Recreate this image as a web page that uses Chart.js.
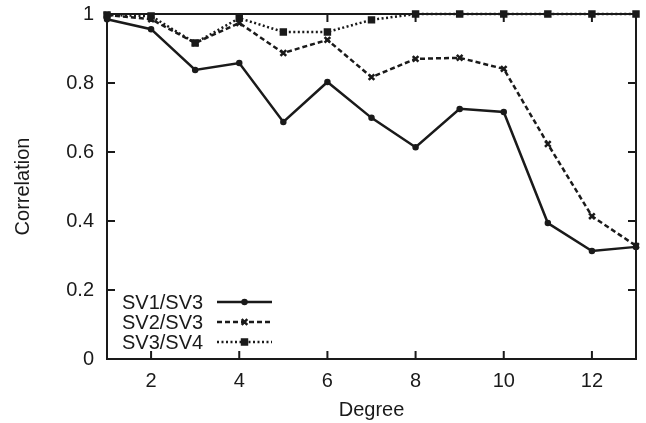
<!DOCTYPE html>
<html lang="en">
<head>
  <meta charset="UTF-8">
  <title>Correlation vs Degree</title>
  <script src="https://cdn.jsdelivr.net/npm/chart.js"></script>
  <style>
    body { margin: 0; background: #fff; }
    #wrap { width: 646px; height: 423px; }
  </style>
</head>
<body>
  <div id="wrap">
    <canvas id="myChart" width="646" height="423"></canvas>
  </div>

  <script>
    const degrees = [1, 2, 3, 4, 5, 6, 7, 8, 9, 10, 11, 12, 13];
    const sv1sv3 = [0.985, 0.956, 0.838, 0.858, 0.687, 0.803, 0.699, 0.614, 0.725, 0.716, 0.394, 0.313, 0.325];
    const sv2sv3 = [0.997, 0.985, 0.916, 0.974, 0.887, 0.925, 0.817, 0.870, 0.873, 0.841, 0.623, 0.414, 0.328];
    const sv3sv4 = [0.997, 0.994, 0.916, 0.988, 0.948, 0.948, 0.983, 1.0, 1.0, 1.0, 1.0, 1.0, 1.0];
    const xTicks = [2, 4, 6, 8, 10, 12];
    const yTicks = [0, 0.2, 0.4, 0.6, 0.8, 1];

    const FONT = "'Liberation Sans', Arial, sans-serif";
    const INK = '#1a1a1a';

    function pts(values) {
      return degrees.map((d, i) => ({ x: d, y: values[i] }));
    }

    // gnuplot style frame with inward ticks on all four sides
    const framePlugin = {
      id: 'frame',
      afterDraw(chart) {
        const { ctx, chartArea: a, scales } = chart;
        ctx.save();
        ctx.strokeStyle = INK;
        ctx.lineWidth = 2;
        xTicks.forEach(v => {
          const px = scales.x.getPixelForValue(v);
          ctx.beginPath();
          ctx.moveTo(px, a.bottom); ctx.lineTo(px, a.bottom - 8);
          ctx.moveTo(px, a.top); ctx.lineTo(px, a.top + 8);
          ctx.stroke();
        });
        yTicks.forEach(v => {
          const py = scales.y.getPixelForValue(v);
          ctx.beginPath();
          ctx.moveTo(a.left, py); ctx.lineTo(a.left + 8, py);
          ctx.moveTo(a.right, py); ctx.lineTo(a.right - 8, py);
          ctx.stroke();
        });
        ctx.strokeRect(a.left, a.top, a.right - a.left, a.bottom - a.top);
        ctx.restore();
      }
    };

    // legend inside the plot: label on the left, line sample on the right
    const keyPlugin = {
      id: 'key',
      afterDraw(chart) {
        const { ctx, chartArea: a } = chart;
        ctx.save();
        ctx.font = '20px ' + FONT;
        ctx.textBaseline = 'middle';
        chart.data.datasets.forEach((ds, i) => {
          const y = a.top + 288 + i * 20;
          ctx.fillStyle = INK;
          ctx.textAlign = 'left';
          ctx.fillText(ds.label, a.left + 15, y + 1);
          const x0 = a.left + 110, x1 = a.left + 165;
          ctx.strokeStyle = ds.borderColor;
          ctx.lineWidth = ds.borderWidth;
          ctx.setLineDash(ds.borderDash || []);
          ctx.beginPath();
          ctx.moveTo(x0, y); ctx.lineTo(x1, y);
          ctx.stroke();
          ctx.setLineDash([]);
          Chart.helpers.drawPoint(ctx, {
            pointStyle: ds.pointStyle, radius: ds.pointRadius, borderWidth: 2
          }, (x0 + x1) / 2, y);
        });
        ctx.restore();
      }
    };

    const ctx = document.getElementById('myChart').getContext('2d');
    const chart = new Chart(ctx, {
      type: 'line',
      data: {
        datasets: [
          {
            label: 'SV1/SV3',
            data: pts(sv1sv3),
            borderColor: INK,
            backgroundColor: INK,
            borderWidth: 2.5,
            pointStyle: 'circle',
            pointRadius: 2,
            tension: 0
          },
          {
            label: 'SV2/SV3',
            data: pts(sv2sv3),
            borderColor: INK,
            backgroundColor: INK,
            borderWidth: 2.5,
            borderDash: [5, 3],
            pointStyle: 'crossRot',
            pointRadius: 4,
            pointBorderWidth: 2.5,
            tension: 0
          },
          {
            label: 'SV3/SV4',
            data: pts(sv3sv4),
            borderColor: INK,
            backgroundColor: INK,
            borderWidth: 2.5,
            borderDash: [2, 2.5],
            pointStyle: 'rect',
            pointRadius: 3.5,
            tension: 0
          }
        ]
      },
      options: {
        responsive: false,
        animation: false,
        clip: false,
        layout: { padding: { top: 14, right: 10, left: 0, bottom: 0 } },
        plugins: {
          legend: { display: false },
          tooltip: { enabled: false }
        },
        scales: {
          x: {
            type: 'linear',
            min: 1,
            max: 13,
            afterBuildTicks: s => { s.ticks = xTicks.map(v => ({ value: v })); },
            afterFit: s => { s.height = 64; s.paddingLeft = 0; s.paddingRight = 0; },
            grid: { display: false, drawTicks: false },
            border: { display: false },
            ticks: { color: INK, font: { family: FONT, size: 20 }, padding: 10 },
            title: {
              display: true,
              text: 'Degree',
              color: INK,
              font: { family: FONT, size: 20 },
              padding: { top: 0, bottom: 1 }
            }
          },
          y: {
            min: 0,
            max: 1,
            afterBuildTicks: s => { s.ticks = yTicks.map(v => ({ value: v })); },
            afterFit: s => { s.width = 107; s.paddingTop = 0; s.paddingBottom = 0; },
            grid: { display: false, drawTicks: false },
            border: { display: false },
            ticks: {
              color: INK,
              font: { family: FONT, size: 20 },
              padding: 13,
              callback: v => String(v)
            },
            title: {
              display: true,
              text: 'Correlation',
              color: INK,
              font: { family: FONT, size: 20 },
              padding: { top: 11, bottom: 0 }
            }
          }
        }
      },
      plugins: [framePlugin, keyPlugin]
    });
  </script>
</body>
</html>
